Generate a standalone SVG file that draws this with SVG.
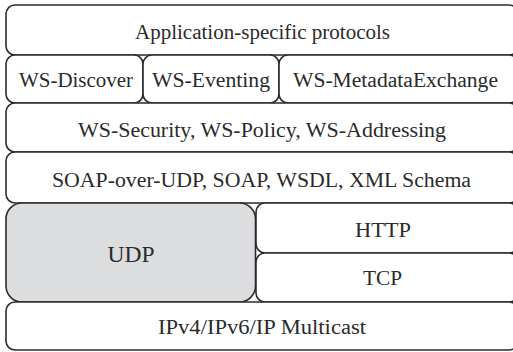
<svg xmlns="http://www.w3.org/2000/svg" width="513" height="352" viewBox="0 0 513 352">
<style>
.b{fill:#fff;stroke:#2b2b2b;stroke-width:1.6}
.g{fill:#dcdddf}
.t{font-family:'Liberation Serif','DejaVu Serif',serif;font-size:20px;fill:#2b2b2b;text-anchor:middle}
</style>
<rect width="513" height="352" fill="#fff"/>
<g id="app"><rect class="b" x="6" y="5" width="512" height="50" rx="9"/><text class="t" x="262.5" y="39" textLength="255" lengthAdjust="spacingAndGlyphs">Application-specific protocols</text></g>
<g id="discover"><rect class="b" x="6" y="55" width="137" height="48" rx="9"/><text class="t" x="76" y="87" textLength="114" lengthAdjust="spacingAndGlyphs">WS-Discover</text></g>
<g id="eventing"><rect class="b" x="143" y="55" width="136" height="48" rx="9"/><text class="t" x="211" y="87" textLength="118" lengthAdjust="spacingAndGlyphs">WS-Eventing</text></g>
<g id="metadata"><rect class="b" x="279" y="55" width="239" height="48" rx="9"/><text class="t" x="395.5" y="87" textLength="205" lengthAdjust="spacingAndGlyphs">WS-MetadataExchange</text></g>
<g id="security"><rect class="b" x="6" y="103" width="512" height="49" rx="9"/><text class="t" x="262" y="137" textLength="368" lengthAdjust="spacingAndGlyphs">WS-Security, WS-Policy, WS-Addressing</text></g>
<g id="soap"><rect class="b" x="6" y="152" width="512" height="51" rx="9"/><text class="t" x="261.5" y="187" textLength="419" lengthAdjust="spacingAndGlyphs">SOAP-over-UDP, SOAP, WSDL, XML Schema</text></g>
<g id="udp"><rect class="b g" x="6" y="203" width="249.5" height="99" rx="16"/><text class="t" x="131" y="262" style="font-size:24px" textLength="47" lengthAdjust="spacingAndGlyphs">UDP</text></g>
<g id="http"><rect class="b" x="256" y="203" width="262" height="50" rx="9"/><text class="t" x="383" y="237" textLength="56" lengthAdjust="spacingAndGlyphs">HTTP</text></g>
<g id="tcp"><rect class="b" x="256" y="253" width="262" height="49" rx="9"/><text class="t" x="382.5" y="285" textLength="39" lengthAdjust="spacingAndGlyphs">TCP</text></g>
<g id="ip"><rect class="b" x="6" y="302" width="512" height="48" rx="9"/><text class="t" x="262" y="334" textLength="208" lengthAdjust="spacingAndGlyphs">IPv4/IPv6/IP Multicast</text></g>
<g id="connectors"></g>
</svg>
